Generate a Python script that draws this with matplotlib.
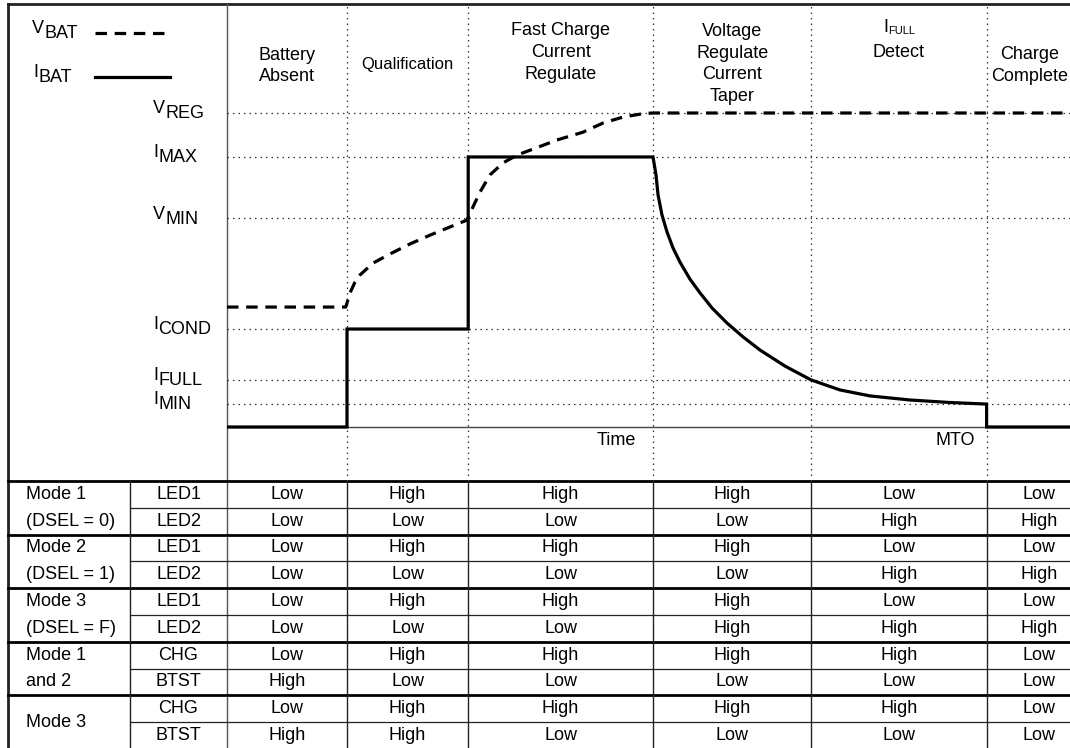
import matplotlib
matplotlib.use('Agg')
import matplotlib.pyplot as plt
import numpy as np

plt.rcParams['font.family'] = ['Liberation Sans', 'DejaVu Sans']

W, H = 1070, 748
FS = 13

# time axis: phase boundaries (time units)
phase_edges = [0.0, 1.0, 2.01, 3.55, 4.87, 6.33, 7.2]
t_end = 7.025

# reference levels
level_main = ['V', 'I', 'V', 'I', 'I', 'I']
level_sub = ['REG', 'MAX', 'MIN', 'COND', 'FULL', 'MIN']
level_val = [10.0, 8.6, 6.65, 3.12, 1.5, 0.73]

# battery voltage (dashed)
vbat_t = [0.0, 0.99, 1.025, 1.067, 1.108, 1.217, 1.358, 1.525, 1.692, 1.858, 2.0,
          2.05, 2.108, 2.192, 2.3, 2.417, 2.55, 2.75, 2.967, 3.133, 3.3, 3.467, 3.55, 7.025]
vbat_v = [3.82, 3.82, 4.27, 4.62, 4.84, 5.22, 5.51, 5.83, 6.11, 6.37, 6.59,
          7.01, 7.48, 8.03, 8.41, 8.66, 8.85, 9.14, 9.39, 9.68, 9.87, 9.98, 10.0, 10.0]

# battery current (solid)
ibat_t = [0.0, 1.0, 1.0, 2.01, 2.01, 3.55, 3.575, 3.592, 3.625, 3.667, 3.717, 3.775,
          3.858, 3.942, 4.042, 4.167, 4.3, 4.442, 4.65, 4.867, 5.108, 5.358, 5.692,
          6.025, 6.33, 6.33, 7.025]
ibat_i = [0.0, 0.0, 3.12, 3.12, 8.6, 8.6, 8.03, 7.39, 6.75, 6.21, 5.70, 5.25,
          4.71, 4.27, 3.79, 3.31, 2.87, 2.45, 1.94, 1.50, 1.18, 0.99, 0.86,
          0.78, 0.73, 0.0, 0.0]

phase_titles = ['Battery\nAbsent', 'Qualification', 'Fast Charge\nCurrent\nRegulate',
                'Voltage\nRegulate\nCurrent\nTaper', 'Detect', 'Charge\nComplete']

group_top = ['Mode 1', 'Mode 2', 'Mode 3', 'Mode 1', 'Mode 3']
group_bottom = ['(DSEL = 0)', '(DSEL = 1)', '(DSEL = F)', 'and 2', '']
signals = ['LED1', 'LED2', 'LED1', 'LED2', 'LED1', 'LED2', 'CHG', 'BTST', 'CHG', 'BTST']
states = [
    ['Low', 'High', 'High', 'High', 'Low', 'Low'],
    ['Low', 'Low', 'Low', 'Low', 'High', 'High'],
    ['Low', 'High', 'High', 'High', 'Low', 'Low'],
    ['Low', 'Low', 'Low', 'Low', 'High', 'High'],
    ['Low', 'High', 'High', 'High', 'Low', 'Low'],
    ['Low', 'Low', 'Low', 'High', 'High', 'High'],
    ['Low', 'High', 'High', 'High', 'High', 'Low'],
    ['High', 'Low', 'Low', 'Low', 'Low', 'Low'],
    ['Low', 'High', 'High', 'High', 'High', 'Low'],
    ['High', 'High', 'Low', 'Low', 'Low', 'Low'],
]

# layout in pixels
X0, XG, XS = 8, 227, 130
TOP, TBL = 4, 481
ROW_H = 26.8
PX_PER_T = 120.0
Y_BASE, PX_PER_V = 427, 31.4


def t2px(t):
    return XG + PX_PER_T * t


fig = plt.figure(figsize=(W / 100, H / 100), dpi=100)
bg = fig.add_axes([0, 0, 1, 1])
bg.set_xlim(0, W)
bg.set_ylim(H, 0)
bg.axis('off')

ax = fig.add_axes([XG / W, 1 - TBL / H, (W - XG) / W, (TBL - TOP) / H])
ax.set_xlim(0, t_end)
ax.set_ylim((Y_BASE - TBL) / PX_PER_V, (Y_BASE - TOP) / PX_PER_V)
ax.axis('off')
ax.patch.set_visible(False)

dot = (0, (1.2, 3.2))
# grid of the timing diagram
ax.hlines(level_val, 0, t_end, colors='#333333', lw=0.9, linestyles=[dot])
ax.vlines(phase_edges[1:-1], *ax.get_ylim(), colors='#333333', lw=0.9, linestyles=[dot])
ax.axhline(0, color='#444444', lw=1.0)

ax.plot(vbat_t, vbat_v, color='black', lw=2.3, ls=(0, (3.6, 2.4)), dash_capstyle='butt')
ax.plot(ibat_t, ibat_i, color='black', lw=2.3, solid_joinstyle='miter')

# frame
bg.plot([X0, W], [TOP, TOP], color='#222222', lw=2.0)
bg.plot([X0, X0], [TOP, H], color='#222222', lw=2.0)
bg.plot([XG, XG], [TOP, H], color='#555555', lw=1.0)


def sub_label(axes, x, y, main, sub, xycoords, rise=3.0, drop=3.6, fs=FS):
    # main letter slightly raised, name part lowered (datasheet style)
    t = axes.annotate(main, xy=(x, y), xycoords=xycoords, xytext=(0, rise),
                      textcoords='offset points', fontsize=fs, ha='left', va='center',
                      annotation_clip=False)
    axes.annotate(sub, xy=(1, 0), xycoords=t, xytext=(0.3, -drop),
                  textcoords='offset points', fontsize=fs, ha='left', va='bottom')
    return t


# level labels
ytr = ax.get_yaxis_transform()
for m, s, v in zip(level_main, level_sub, level_val):
    sub_label(ax, (153 - XG) / (W - XG), v, m, s, ytr)

# legend
sub_label(bg, 32, 33, 'V', 'BAT', 'data')
bg.plot([95, 164], [33, 33], color='black', lw=2.3, ls=(0, (3.6, 2.4)))
sub_label(bg, 33, 77, 'I', 'BAT', 'data')
bg.plot([95, 170], [77, 77], color='black', lw=2.3)

# phase titles
title_y = [66, 64, 52.5, 64, 52, 65.5]
for i, title in enumerate(phase_titles):
    xc = (t2px(phase_edges[i]) + t2px(phase_edges[i + 1])) / 2
    fs = FS
    if i == 1:
        fs = 12
    if i == 5:
        xc = 1030
    bg.text(xc, title_y[i], title, fontsize=fs, ha='center', va='center', linespacing=1.38)
xc = (t2px(phase_edges[4]) + t2px(phase_edges[5])) / 2
ti = bg.text(xc - 11, 27, 'I', fontsize=FS, ha='right', va='center')
bg.annotate('FULL', xy=(1, 0), xycoords=ti, xytext=(0.3, 0), textcoords='offset points',
            fontsize=8, ha='left', va='bottom')

bg.text(t2px(phase_edges[3]) - 17, 440, 'Time', fontsize=FS, ha='right', va='center')
bg.text(t2px(phase_edges[5]) - 12, 440, 'MTO', fontsize=FS, ha='right', va='center')

# status table
col_x = [t2px(e) for e in phase_edges]
for k in range(len(signals) + 1):
    y = TBL + k * ROW_H
    if k % 2 == 0:
        bg.plot([X0, W], [y, y], color='black', lw=2.0)
    else:
        bg.plot([XS, W], [y, y], color='#222222', lw=0.9)
bg.plot([XS, XS], [TBL, H], color='#222222', lw=1.0)
for x in col_x[1:-1]:
    bg.plot([x, x], [TBL, H], color='#222222', lw=1.0)

for r, (sig, row) in enumerate(zip(signals, states)):
    yc = TBL + (r + 0.5) * ROW_H
    bg.text((XS + XG) / 2, yc, sig, fontsize=FS, ha='center', va='center')
    for c, val in enumerate(row):
        xc = (col_x[c] + col_x[c + 1]) / 2
        bg.text(xc, yc, val, fontsize=FS, ha='center', va='center')

for g, (top, bot) in enumerate(zip(group_top, group_bottom)):
    y0 = TBL + 2 * g * ROW_H
    if bot:
        bg.text(26, y0 + 0.5 * ROW_H, top, fontsize=FS, ha='left', va='center')
        bg.text(26, y0 + 1.5 * ROW_H, bot, fontsize=FS, ha='left', va='center')
    else:
        bg.text(26, y0 + ROW_H, top, fontsize=FS, ha='left', va='center')

fig.savefig('out.png', dpi=100)
